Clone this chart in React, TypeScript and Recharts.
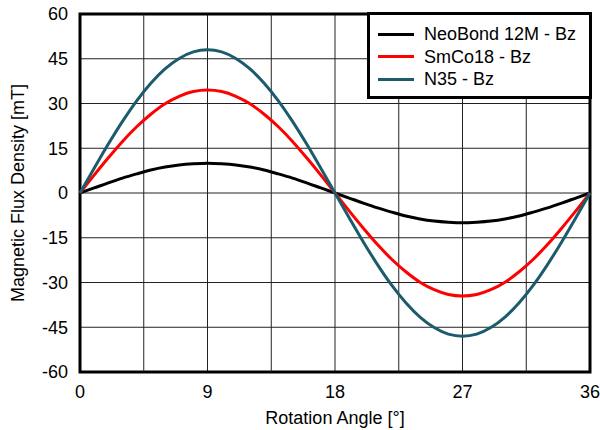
import React from 'react';
import { LineChart, Line, XAxis, YAxis, CartesianGrid, ReferenceLine, ReferenceArea } from 'recharts';

const angles = [0,1,2,3,4,5,6,7,8,9,10,11,12,13,14,15,16,17,18,19,20,21,22,23,24,25,26,27,28,29,30,31,32,33,34,35,36];
const neoBond = [0,1.7,3.4,5.0,6.4,7.7,8.7,9.4,9.8,10,9.8,9.4,8.7,7.7,6.4,5.0,3.4,1.7,0,-1.7,-3.4,-5.0,-6.4,-7.7,-8.7,-9.4,-9.8,-10,-9.8,-9.4,-8.7,-7.7,-6.4,-5.0,-3.4,-1.7,0];
const smCo = [0,6.0,11.8,17.3,22.2,26.4,29.9,32.4,34.0,34.5,34.0,32.4,29.9,26.4,22.2,17.3,11.8,6.0,0,-6.0,-11.8,-17.3,-22.2,-26.4,-29.9,-32.4,-34.0,-34.5,-34.0,-32.4,-29.9,-26.4,-22.2,-17.3,-11.8,-6.0,0];
const n35 = [0,8.3,16.4,24.0,30.9,36.8,41.6,45.1,47.3,48.0,47.3,45.1,41.6,36.8,30.9,24.0,16.4,8.3,0,-8.3,-16.4,-24.0,-30.9,-36.8,-41.6,-45.1,-47.3,-48.0,-47.3,-45.1,-41.6,-36.8,-30.9,-24.0,-16.4,-8.3,0];
const xTicks = [0,9,18,27,36];
const xMinorGrid = [4.5,13.5,22.5,31.5];
const yTicks = [-60,-45,-30,-15,0,15,30,45,60];

const seriesNames = ['NeoBond 12M - Bz','SmCo18 - Bz','N35 - Bz'];
const seriesColors = ['#000000','#ff0000','#1b5b6c'];

const data = angles.map((a, i) => ({ angle: a, neo: neoBond[i], smco: smCo[i], n35: n35[i] }));

const FONT = 'Liberation Sans, Arial, Helvetica, sans-serif';
const FS = 18;

const LegendBox = () => (
  <div style={{ position: 'absolute', left: 367, top: 12, width: 219, height: 81, border: '3px solid #000', background: '#fff', fontFamily: FONT, fontSize: FS, color: '#000' }}>
    {seriesNames.map((n, i) => (
      <div key={n} style={{ display: 'flex', alignItems: 'center', height: 22.5, marginTop: i === 0 ? 8 : 0 }}>
        <div style={{ width: 36, height: 3, background: seriesColors[i], marginLeft: 8, marginRight: 10 }} />
        <span style={{ lineHeight: '22px', whiteSpace: 'nowrap' }}>{n}</span>
      </div>
    ))}
  </div>
);

export default function App() {
  return (
    <div style={{ position: 'absolute', left: 0, top: 0, width: 600, height: 430, background: '#fff' }}>
      <LineChart width={600} height={430} data={data} margin={{ top: 14, right: 10, left: 0, bottom: 0 }}>
        <CartesianGrid stroke="#222" strokeWidth={1} />
        {xMinorGrid.map(v => (
          <ReferenceLine key={v} x={v} stroke="#222" strokeWidth={1} />
        ))}
        <XAxis
          dataKey="angle"
          type="number"
          domain={[0, 36]}
          ticks={xTicks}
          tickLine={false}
          axisLine={false}
          height={58}
          tick={{ fontSize: FS, fill: '#000', fontFamily: FONT }}
          tickMargin={7}
          label={{ value: 'Rotation Angle [°]', position: 'insideBottom', offset: 6, fontSize: FS, fill: '#000', fontFamily: FONT }}
        />
        <YAxis
          type="number"
          domain={[-60, 60]}
          ticks={yTicks}
          tickLine={false}
          axisLine={false}
          width={80}
          interval={0}
          tick={{ fontSize: FS, fill: '#000', fontFamily: FONT }}
          tickMargin={6}
          label={{ value: 'Magnetic Flux Density [mT]', angle: -90, position: 'insideLeft', offset: 18, style: { textAnchor: 'middle' }, fontSize: FS, fill: '#000', fontFamily: FONT }}
        />
        <Line type="monotone" dataKey="neo" name={seriesNames[0]} stroke={seriesColors[0]} strokeWidth={3} dot={false} isAnimationActive={false} />
        <Line type="monotone" dataKey="smco" name={seriesNames[1]} stroke={seriesColors[1]} strokeWidth={3} dot={false} isAnimationActive={false} />
        <Line type="monotone" dataKey="n35" name={seriesNames[2]} stroke={seriesColors[2]} strokeWidth={3} dot={false} isAnimationActive={false} />
        <ReferenceArea x1={0} x2={36} y1={-60} y2={60} fill="none" fillOpacity={0} stroke="#000" strokeWidth={3} ifOverflow="visible" />
      </LineChart>
      <LegendBox />
    </div>
  );
}
